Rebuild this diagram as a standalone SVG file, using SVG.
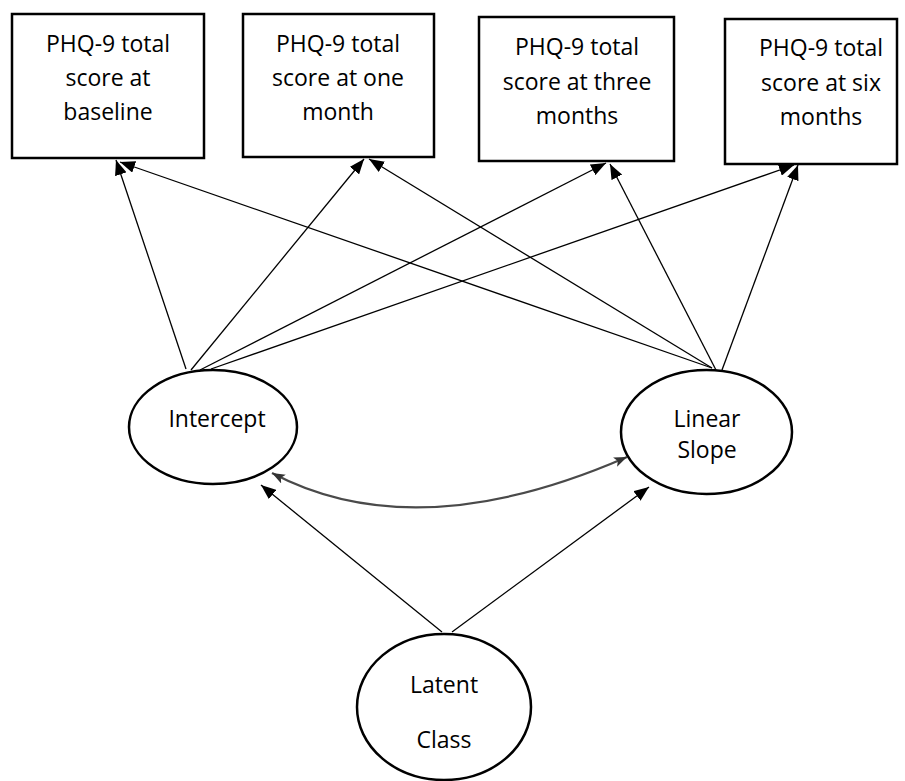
<svg xmlns="http://www.w3.org/2000/svg" width="905" height="781" viewBox="0 0 905 781">
<style>
.box{fill:#fff;stroke:#000;stroke-width:2.5}
.ell{fill:#fff;stroke:#000;stroke-width:2.5}
.t{font-family:"Open Sans","Liberation Sans",sans-serif;font-size:23px;fill:#000;text-anchor:middle}
.c{fill:none;stroke:#000;stroke-width:1.3}
.cv{fill:none;stroke:#4a4a4a;stroke-width:2.2}
</style>
<defs>
<marker id="ah" markerUnits="userSpaceOnUse" markerWidth="16" markerHeight="12" refX="15" refY="6" orient="auto">
<path d="M0,0 L15,6 L0,12 z" fill="#000"/>
</marker>
<marker id="ahg" markerUnits="userSpaceOnUse" markerWidth="14" markerHeight="10" refX="13" refY="5" orient="auto-start-reverse">
<path d="M0,0 L13,5 L0,10 L3,5 z" fill="#333"/>
</marker>
</defs>
<g id="connectors">
<line class="c" x1="186" y1="369" x2="116" y2="160" marker-end="url(#ah)"/>
<line class="c" x1="191" y1="370" x2="364" y2="159" marker-end="url(#ah)"/>
<line class="c" x1="200" y1="370" x2="606" y2="163" marker-end="url(#ah)"/>
<line class="c" x1="211" y1="369" x2="794" y2="165" marker-end="url(#ah)"/>
<line class="c" x1="712" y1="368" x2="120" y2="162" marker-end="url(#ah)"/>
<line class="c" x1="712" y1="368" x2="369" y2="159" marker-end="url(#ah)"/>
<line class="c" x1="717" y1="372" x2="610" y2="164" marker-end="url(#ah)"/>
<line class="c" x1="722" y1="370" x2="798" y2="165" marker-end="url(#ah)"/>
<line class="c" x1="442" y1="632" x2="261" y2="485" marker-end="url(#ah)"/>
<line class="c" x1="452" y1="632" x2="649" y2="487" marker-end="url(#ah)"/>
<path class="cv" d="M272,473 Q416,549 627,457" marker-start="url(#ahg)" marker-end="url(#ahg)"/>
</g>
<g id="box1">
<rect class="box" x="12" y="14" width="192" height="144"/>
<text class="t" x="108" y="52">PHQ-9 total</text>
<text class="t" x="108" y="86">score at</text>
<text class="t" x="108" y="120">baseline</text>
</g>
<g id="box2">
<rect class="box" x="243" y="14" width="191" height="143"/>
<text class="t" x="338" y="52">PHQ-9 total</text>
<text class="t" x="338" y="86">score at one</text>
<text class="t" x="338" y="120">month</text>
</g>
<g id="box3">
<rect class="box" x="479" y="17" width="195" height="144"/>
<text class="t" x="577" y="55">PHQ-9 total</text>
<text class="t" x="577" y="90">score at three</text>
<text class="t" x="577" y="124">months</text>
</g>
<g id="box4">
<rect class="box" x="725" y="19" width="172" height="145"/>
<text class="t" x="821" y="56">PHQ-9 total</text>
<text class="t" x="821" y="91">score at six</text>
<text class="t" x="821" y="125">months</text>
</g>
<g id="intercept">
<ellipse class="ell" cx="213" cy="427" rx="84" ry="57"/>
<text class="t" x="217" y="427">Intercept</text>
</g>
<g id="slope">
<ellipse class="ell" cx="706.5" cy="432" rx="85.5" ry="62"/>
<text class="t" x="707" y="427">Linear</text>
<text class="t" x="707" y="458">Slope</text>
</g>
<g id="latent">
<ellipse class="ell" cx="444" cy="707" rx="87" ry="73"/>
<text class="t" x="444" y="693">Latent</text>
<text class="t" x="444" y="748">Class</text>
</g>
</svg>
